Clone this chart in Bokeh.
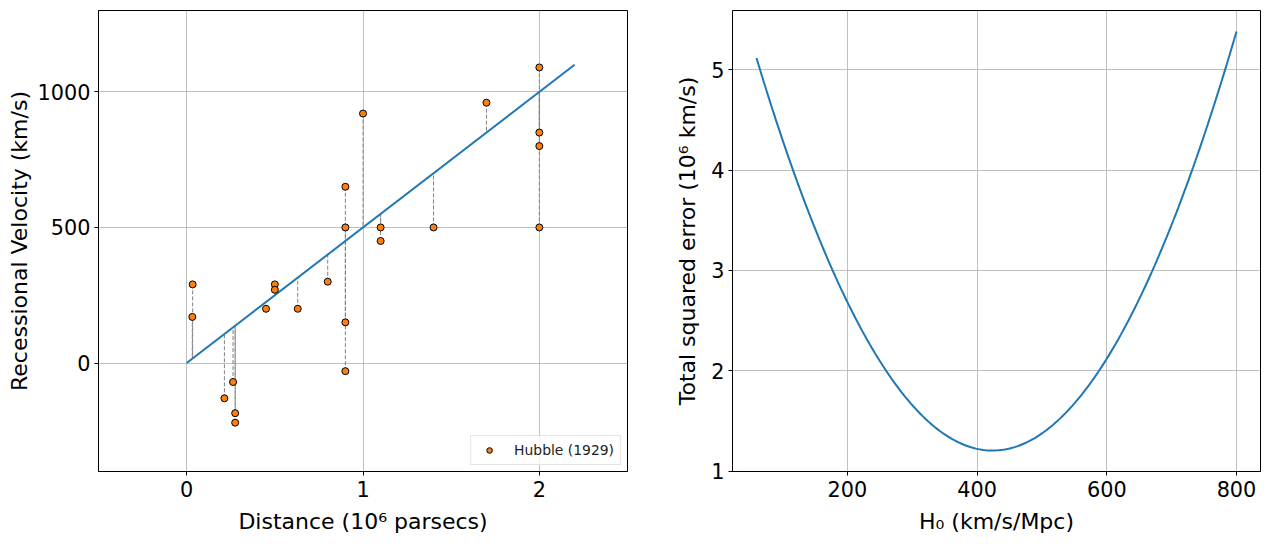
import numpy as np
from bokeh.plotting import figure
from bokeh.layouts import row
from bokeh.models import FixedTicker, Range1d, Legend, LegendItem
from bokeh.embed import file_html
from bokeh.resources import INLINE

# Hubble (1929): distances in 10^6 parsecs, recessional velocities in km/s
distance_mpc = [0.032, 0.034, 0.214, 0.263, 0.275, 0.275, 0.45, 0.5, 0.5, 0.63,
                0.8, 0.9, 0.9, 0.9, 0.9, 1.0, 1.1, 1.1, 1.4, 1.7, 2.0, 2.0, 2.0, 2.0]
velocity_kms = [170, 290, -130, -70, -185, -220, 200, 290, 270, 200,
                300, -30, 650, 150, 500, 920, 450, 500, 500, 960, 500, 850, 800, 1090]

# trial Hubble constant used for the straight line and its residuals
trial_h0 = 500
line_distance = [0, 2.2]

# range of Hubble constants scanned for the squared-error curve (km/s/Mpc)
h0_start, h0_stop = 60, 800

left_x_ticks = [0, 1, 2]
left_y_ticks = [0, 500, 1000]
right_x_ticks = [200, 400, 600, 800]
right_y_ticks = [1, 2, 3, 4, 5]

FONT = "DejaVu Sans"
BLUE = "#1f77b4"
ORANGE = "#ff7f0e"
GRID = "#b0b0b0"

d = np.array(distance_mpc, dtype=float)
v = np.array(velocity_kms, dtype=float)


def style(p, xticks, yticks, ylabel_standoff):
    p.background_fill_color = "white"
    p.border_fill_color = "white"
    p.outline_line_color = "black"
    p.outline_line_width = 1
    p.outline_line_alpha = 1
    for ax in (p.xaxis[0], p.yaxis[0]):
        ax.axis_line_color = "black"
        ax.axis_line_width = 1
        ax.major_tick_line_color = "black"
        ax.major_tick_in = 0
        ax.major_tick_out = 4
        ax.minor_tick_line_color = None
        ax.major_label_text_font = FONT
        ax.major_label_text_font_size = "20.8px"
        ax.major_label_text_color = "black"
        ax.axis_label_text_font = FONT
        ax.axis_label_text_font_size = "22px"
        ax.axis_label_text_font_style = "normal"
        ax.axis_label_text_color = "black"
    p.xaxis[0].major_label_standoff = 5
    p.yaxis[0].major_label_standoff = 4
    p.xaxis[0].axis_label_standoff = 9
    p.yaxis[0].axis_label_standoff = ylabel_standoff
    p.xaxis[0].ticker = FixedTicker(ticks=xticks)
    p.yaxis[0].ticker = FixedTicker(ticks=yticks)
    for g in (p.xgrid[0], p.ygrid[0]):
        g.grid_line_color = GRID
        g.grid_line_width = 0.8


# ---- left panel: velocity vs distance ----
p1 = figure(width=660, height=546, output_backend="svg", toolbar_location=None,
            x_range=Range1d(-0.5, 2.5), y_range=Range1d(-400, 1300),
            min_border_left=98, min_border_right=33, min_border_top=10,
            min_border_bottom=75)
style(p1, left_x_ticks, left_y_ticks, 3)
p1.xaxis.axis_label = "Distance (10\u2076 parsecs)"
p1.yaxis.axis_label = "Recessional Velocity (km/s)"

predicted = trial_h0 * d
p1.segment(x0=d, y0=v, x1=d, y1=predicted, line_color="gray",
           line_width=1, line_dash="4 2")
lx = np.array(line_distance, dtype=float)
p1.line(lx, trial_h0 * lx, line_color=BLUE, line_width=2)
pts = p1.scatter(d, v, size=7, fill_color=ORANGE, line_color="black",
                 line_width=1)

legend = Legend(items=[LegendItem(label="Hubble (1929)", renderers=[pts])],
                location="bottom_right")
legend.label_text_font = FONT
legend.label_text_font_size = "13.9px"
legend.label_text_color = "#222222"
legend.padding = 6
legend.margin = 6
legend.glyph_width = 24
legend.glyph_height = 14
legend.label_height = 14
legend.label_standoff = 13
legend.border_line_color = "#cccccc"
legend.border_line_width = 1
legend.background_fill_alpha = 0.8
p1.add_layout(legend)

# ---- right panel: total squared error as a function of H0 ----
h0_grid = np.linspace(h0_start, h0_stop, 200)
sq_err = np.array([np.sum((v - h * d) ** 2) for h in h0_grid]) / 1e6
pad_x = 0.05 * (h0_stop - h0_start)
pad_y = 0.05 * (sq_err.max() - sq_err.min())

p2 = figure(width=610, height=546, output_backend="svg", toolbar_location=None,
            x_range=Range1d(h0_start - pad_x, h0_stop + pad_x),
            y_range=Range1d(sq_err.min() - pad_y, sq_err.max() + pad_y),
            min_border_left=72, min_border_right=10, min_border_top=10,
            min_border_bottom=75)
style(p2, right_x_ticks, right_y_ticks, 8)
p2.xaxis.axis_label = "H\u2080 (km/s/Mpc)"
p2.yaxis.axis_label = "Total squared error (10\u2076 km/s)"
p2.line(h0_grid, sq_err, line_color=BLUE, line_width=2)

layout = row(p1, p2)
open("out.html", "w").write(file_html(layout, INLINE))
